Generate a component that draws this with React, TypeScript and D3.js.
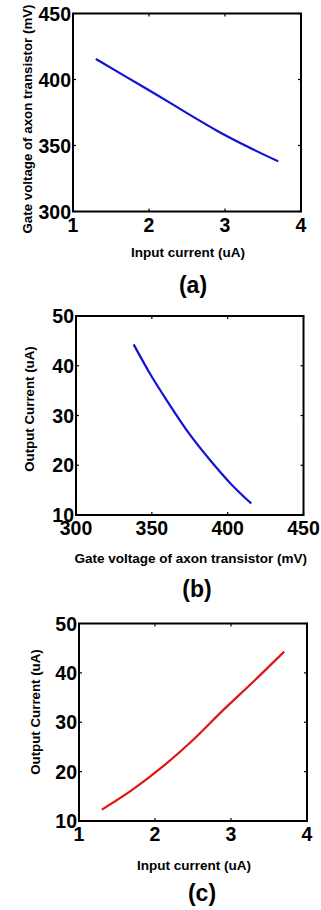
import * as d3 from 'd3'

// shared sweep of the input current (uA)
const inputCurrent = [1.3, 1.7, 2.1, 2.5, 2.9, 3.3, 3.7]
// gate voltage of axon transistor (mV)
const gateVoltage = [415.6, 402, 388.5, 374.5, 361, 349, 338]
// output current (uA)
const outputCurrent = [12.3, 16.3, 21, 26.4, 32.5, 38.3, 44.3]

const inputTicks = [1, 2, 3, 4]
const gateTicks = [300, 350, 400, 450]
const outputTicks = [10, 20, 30, 40, 50]

const FONT = '"Liberation Sans", Arial, Helvetica, sans-serif'

type Pt = { x: number, y: number }

const Panel = ({ box, xDomain, yDomain, xTicks, yTicks, data, color, xLabel, yLabel, xLabelY, yLabelX, yLabelY, caption, captionX, captionY }) => {
    const xScale = d3.scaleLinear().domain(xDomain).range([box.left, box.right])
    const yScale = d3.scaleLinear().domain(yDomain).range([box.bottom, box.top])
    const sorted = [...data].sort((a, b) => a.x - b.x)
    const line = d3.line<Pt>()
        .x(d => xScale(d.x))
        .y(d => yScale(d.y))
        .curve(d3.curveMonotoneX)

    const tickLen = 3
    return (
        <g>
            {xTicks.map(t => (
                <g key={'x' + t}>
                    <line x1={xScale(t)} x2={xScale(t)} y1={box.bottom} y2={box.bottom - tickLen} stroke="#000" strokeWidth={1.2} />
                    <line x1={xScale(t)} x2={xScale(t)} y1={box.top} y2={box.top + tickLen} stroke="#000" strokeWidth={1.2} />
                    <text x={xScale(t)} y={box.bottom + 20} textAnchor="middle" fontSize={19.5} fontWeight="bold">{t}</text>
                </g>
            ))}
            {yTicks.map(t => (
                <g key={'y' + t}>
                    <line x1={box.left} x2={box.left + tickLen} y1={yScale(t)} y2={yScale(t)} stroke="#000" strokeWidth={1.2} />
                    <line x1={box.right} x2={box.right - tickLen} y1={yScale(t)} y2={yScale(t)} stroke="#000" strokeWidth={1.2} />
                    <text x={box.left - 2} y={yScale(t)} dy="0.36em" textAnchor="end" fontSize={19.5} fontWeight="bold">{t}</text>
                </g>
            ))}
            <path d={line(sorted) ?? ''} fill="none" stroke={color} strokeWidth={2.2} />
            <rect x={box.left} y={box.top} width={box.right - box.left} height={box.bottom - box.top} fill="none" stroke="#000" strokeWidth={2} />
            <text x={(box.left + box.right) / 2 + 1} y={xLabelY} textAnchor="middle" fontSize={13.5} fontWeight="bold">{xLabel}</text>
            <text transform={`translate(${yLabelX},${yLabelY}) rotate(-90)`} textAnchor="middle" dy="0.35em" fontSize={13.3} fontWeight="bold">{yLabel}</text>
            <text x={captionX} y={captionY} dy="0.35em" textAnchor="middle" fontSize={23} fontWeight="bold">{caption}</text>
        </g>
    )
}

export default function App() {
    const dataA = inputCurrent.map((c, i) => ({ x: c, y: gateVoltage[i] }))
    const dataB = gateVoltage.map((g, i) => ({ x: g, y: outputCurrent[i] }))
    const dataC = inputCurrent.map((c, i) => ({ x: c, y: outputCurrent[i] }))

    return (
        <svg width={321} height={910} style={{ position: 'absolute', left: 0, top: 0, background: '#fff', fontFamily: FONT }}>
            <Panel
                box={{ left: 73, right: 301, top: 13.5, bottom: 211.5 }}
                xDomain={[1, 4]} yDomain={[300, 450]}
                xTicks={inputTicks} yTicks={gateTicks}
                data={dataA} color="#1212d6"
                xLabel="Input current (uA)" yLabel="Gate voltage of axon transistor (mV)"
                xLabelY={256.5} yLabelX={27} yLabelY={119}
                caption="(a)" captionX={193} captionY={285}
            />
            <Panel
                box={{ left: 76, right: 303.5, top: 316, bottom: 515 }}
                xDomain={[300, 450]} yDomain={[10, 50]}
                xTicks={gateTicks} yTicks={outputTicks}
                data={dataB} color="#1212d6"
                xLabel="Gate voltage of axon transistor (mV)" yLabel="Output Current (uA)"
                xLabelY={562.5} yLabelX={29} yLabelY={409}
                caption="(b)" captionX={197} captionY={589}
            />
            <Panel
                box={{ left: 79, right: 307, top: 623.5, bottom: 821 }}
                xDomain={[1, 4]} yDomain={[10, 50]}
                xTicks={inputTicks} yTicks={outputTicks}
                data={dataC} color="#e01515"
                xLabel="Input current (uA)" yLabel="Output Current (uA)"
                xLabelY={869.5} yLabelX={35.5} yLabelY={712}
                caption="(c)" captionX={202} captionY={893}
            />
        </svg>
    )
}
